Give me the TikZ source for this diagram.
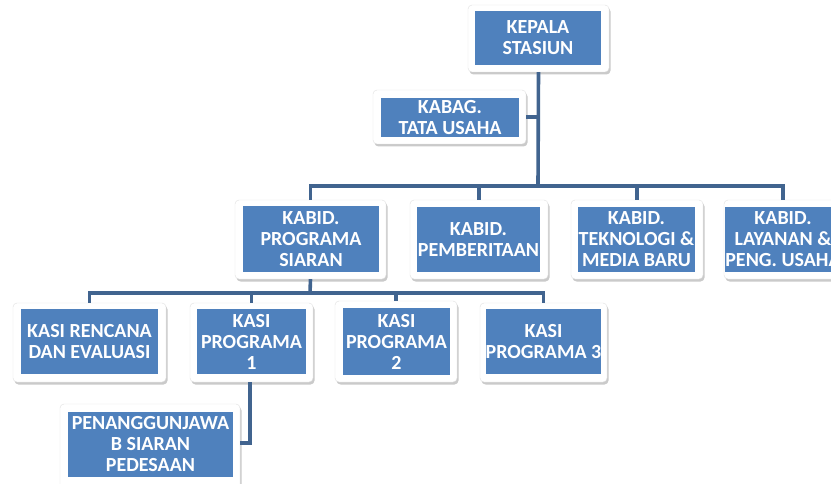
\documentclass[tikz,border=0pt]{standalone}
\usepackage{fontspec}
\setmainfont{Carlito}
\usetikzlibrary{shadows}
\definecolor{boxblue}{HTML}{4F81BD}
\definecolor{linkblue}{HTML}{41648F}
\tikzset{
  frame/.style={draw=black!12, line width=0.4pt, fill=white, rounded corners=4pt, inner sep=0pt,
    drop shadow={shadow xshift=1.5pt, shadow yshift=-2.5pt, opacity=0.35, fill=black!60}},
  inbox/.style={fill=boxblue, text=white, inner sep=0pt, align=center,
    font=\fontsize{20}{21}\selectfont\bfseries},
  conn/.style={draw=linkblue, line width=3.6pt}
}
\begin{document}
\begin{tikzpicture}[x=1pt,y=-1pt]
\useasboundingbox (0,0) rectangle (831,484);
% coordinates for buses
\coordinate (busA) at (538,186);
\coordinate (busB) at (310,293);
% outer frames
\node[frame, minimum width=141pt, minimum height=67pt] (ks) at (538.5,38.5) {};
\node[frame, minimum width=153pt, minimum height=54pt] (tu) at (449.5,117) {};
\node[frame, minimum width=151pt, minimum height=79pt] (kp) at (310.5,239.5) {};
\node[frame, minimum width=138pt, minimum height=79pt] (kb) at (479,239.5) {};
\node[frame, minimum width=132pt, minimum height=79pt] (kt) at (637,239.5) {};
\node[frame, minimum width=118pt, minimum height=79pt] (kl) at (783,239.5) {};
\node[frame, minimum width=153pt, minimum height=79pt] (sr) at (89.5,342.5) {};
\node[frame, minimum width=123pt, minimum height=79pt] (s1) at (251.5,342.5) {};
\node[frame, minimum width=122pt, minimum height=81pt] (s2) at (396,341.5) {};
\node[frame, minimum width=127pt, minimum height=79pt] (s3) at (543.5,342.5) {};
\node[frame, minimum width=180pt, minimum height=84pt] (pj) at (150,446) {};
% connectors
\draw[conn] (ks.south) -- (busA);
\draw[conn] (tu.east) -- (tu.east -| busA);
\draw[conn] (busA) -| (kp.north);
\draw[conn] (busA) -| (kb.north);
\draw[conn] (busA) -| (kt.north);
\draw[conn] (busA) -| (kl.north);
\draw[conn] (kp.south) -- (busB);
\draw[conn] (busB) -| (sr.north);
\draw[conn] (busB) -| (s1.north);
\draw[conn] (busB) -| (s2.north);
\draw[conn] (busB) -| (s3.north);
\draw[conn] (s1.south -| 250,0) |- (pj.east |- 0,443);
% inner boxes with text
\node[inbox, minimum width=126pt, minimum height=54pt] (ksT) at (538,38) {KEPALA\\STASIUN};
\node[inbox, minimum width=138pt, minimum height=39pt] (tuT) at (450,117.5) {KABAG.\\TATA USAHA};
\node[inbox, minimum width=136pt, minimum height=66pt] (kpT) at (311,239) {KABID.\\PROGRAMA\\SIARAN};
\node[inbox, minimum width=123pt, minimum height=65pt] (kbT) at (478.5,239.5) {KABID.\\PEMBERITAAN};
\node[inbox, minimum width=117pt, minimum height=65pt] (ktT) at (636.5,239.5) {KABID.\\TEKNOLOGI \&\\MEDIA BARU};
\node[inbox, minimum width=104pt, minimum height=65pt] (klT) at (783,239.5) {KABID.\\LAYANAN \&\\PENG. USAHA};
\node[inbox, minimum width=137pt, minimum height=65pt] (srT) at (89.5,341.5) {KASI RENCANA\\DAN EVALUASI};
\node[inbox, minimum width=109pt, minimum height=65pt] (s1T) at (251.5,341.5) {KASI\\PROGRAMA\\1};
\node[inbox, minimum width=107pt, minimum height=67pt] (s2T) at (396.5,341.5) {KASI\\PROGRAMA\\2};
\node[inbox, minimum width=113pt, minimum height=65pt] (s3T) at (543.5,341.5) {KASI\\PROGRAMA 3};
\node[inbox, minimum width=165pt, minimum height=65pt] (pjT) at (150.5,444.5) {PENANGGUNJAWA\\B SIARAN\\PEDESAAN};
\end{tikzpicture}
\end{document}
